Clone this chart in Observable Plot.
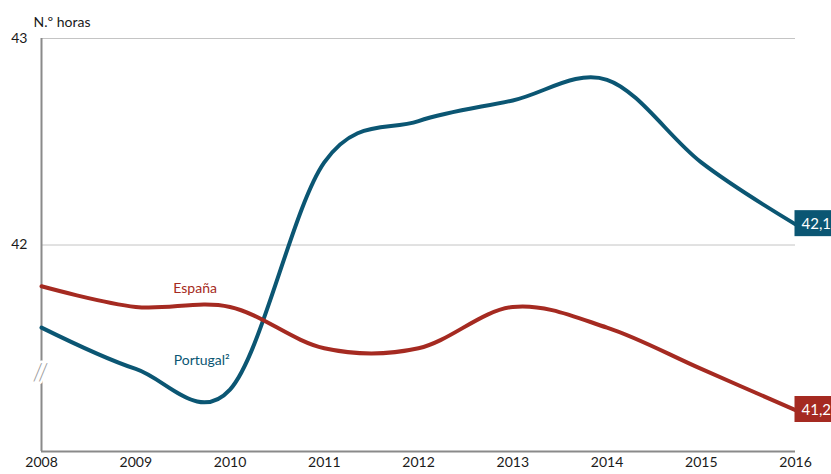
<!DOCTYPE html>
<html>
<head>
<meta charset="utf-8">
<script src="https://cdn.jsdelivr.net/npm/d3@7"></script>
<script src="https://cdn.jsdelivr.net/npm/@observablehq/plot@0.6"></script>
<style>
  html, body { margin: 0; padding: 0; background: #fff; }
  svg { display: block; }
</style>
</head>
<body>
<div id="chart"></div>
<script>
const years = [2008, 2009, 2010, 2011, 2012, 2013, 2014, 2015, 2016];
const portugal = [41.6, 41.4, 41.3, 42.4, 42.6, 42.7, 42.8, 42.4, 42.1];
const espana = [41.8, 41.7, 41.7, 41.5, 41.5, 41.7, 41.6, 41.4, 41.2];
const seriesNames = ["Portugal", "España"];
const seriesLabels = ["Portugal²", "España"];
const endLabels = ["42,1", "41,2"];
const yTicks = [42, 43];
const yLabel = "N.º horas";

const colors = { "Portugal": "#0b5673", "España": "#a52a21" };
const font = "Lato, 'Open Sans', sans-serif";

const rows = [];
years.forEach((y, i) => {
  rows.push({ serie: "Portugal", year: y, value: portugal[i] });
  rows.push({ serie: "España", year: y, value: espana[i] });
});
const last = seriesNames.map((s, i) => ({
  serie: s,
  year: years[years.length - 1],
  value: (s === "Portugal" ? portugal : espana)[years.length - 1],
  label: endLabels[i]
}));

const chart = Plot.plot({
  width: 831,
  height: 474,
  marginTop: 38,
  marginBottom: 23,
  marginLeft: 41,
  marginRight: 36,
  style: { fontFamily: font, fontSize: "14px", color: "#1a1a1a", background: "#fff" },
  x: { domain: [2008, 2016], ticks: years, tickFormat: d => String(d), tickSize: 0, tickPadding: 6, label: null },
  y: { domain: [41, 43], ticks: yTicks, tickFormat: d => String(d), tickSize: 0, tickPadding: 14, label: null },
  marks: [
    Plot.gridY(yTicks, { stroke: "#c4c4c4", strokeOpacity: 1, strokeWidth: 1 }),
    Plot.ruleX([2008], { stroke: "#8a8a8a", strokeWidth: 2 }),
    Plot.ruleY([41], { stroke: "#8a8a8a", strokeWidth: 2 }),
    Plot.text(["//"], { x: () => 2008, y: () => 41.385, text: d => d, fill: "#9a9a9a", stroke: "white", strokeWidth: 5, fontSize: 24, fontWeight: 300, letterSpacing: "-4px", dx: -1 }),
    Plot.axisX({ ticks: years, tickFormat: d => String(d), tickSize: 0, tickPadding: 6, fontSize: 14 }),
    Plot.axisY({ ticks: yTicks, tickFormat: d => String(d), tickSize: 0, tickPadding: 14, fontSize: 14 }),
    Plot.line(rows, { x: "year", y: "value", z: "serie", stroke: d => colors[d.serie], strokeWidth: 4, curve: "cardinal" }),
    Plot.text([seriesLabels[1]], { x: () => 2009.63, y: () => 41.79, text: d => d, fill: colors["España"], fontSize: 14 }),
    Plot.text([seriesLabels[0]], { x: () => 2009.70, y: () => 41.44, text: d => d, fill: colors["Portugal"], fontSize: 14 }),
    Plot.text([yLabel], { frameAnchor: "top-left", text: d => d, dx: -8, dy: -21, textAnchor: "start", fontSize: 14, fill: "#1a1a1a" }),
    Plot.text(last, { x: "year", y: "value", text: "label", fill: "white", textAnchor: "start", dx: 6, fontSize: 15 })
  ]
});

document.getElementById("chart").appendChild(chart);

// boxes behind the end labels
const ns = "http://www.w3.org/2000/svg";
chart.querySelectorAll("text").forEach(t => {
  const idx = endLabels.indexOf(t.textContent.trim());
  if (idx < 0) return;
  const bb = t.getBBox();
  const r = document.createElementNS(ns, "rect");
  const h = 26;
  const cy = bb.y + bb.height / 2;
  r.setAttribute("x", bb.x - 7);
  r.setAttribute("y", cy - h / 2);
  r.setAttribute("width", bb.width + 14);
  r.setAttribute("height", h);
  r.setAttribute("fill", colors[last[idx].serie]);
  const tr = t.getAttribute("transform");
  if (tr) r.setAttribute("transform", tr);
  t.parentNode.insertBefore(r, t);
});
</script>
</body>
</html>
